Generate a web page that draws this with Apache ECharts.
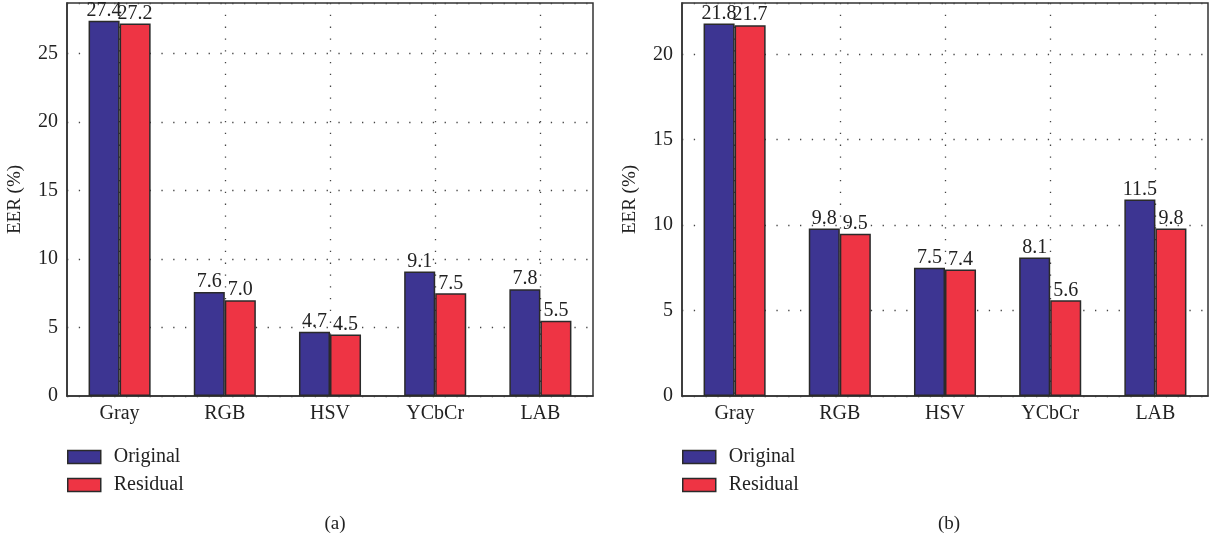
<!DOCTYPE html>
<html>
<head>
<meta charset="utf-8">
<script src="https://cdn.jsdelivr.net/npm/echarts@6/dist/echarts.min.js"></script>
<style>
  html, body { margin: 0; padding: 0; background: #fff; }
  #chart { width: 1213px; height: 540px; }
</style>
</head>
<body>
<div id="chart"></div>
<script>
// 数据
const categories = ["Gray", "RGB", "HSV", "YCbCr", "LAB"];
const seriesNames = ["Original", "Residual"];
const originalA = [27.4, 7.6, 4.7, 9.1, 7.8];
const residualA = [27.2, 7.0, 4.5, 7.5, 5.5];
const originalB = [21.8, 9.8, 7.5, 8.1, 11.5];
const residualB = [21.7, 9.5, 7.4, 5.6, 9.8];
// hidden axis positions so the vertical dotted lines go through category centres
const centreSlots = ["", "", "", "", "", "", "", "", "", "", ""];

const FONT = "Liberation Serif";
const BLUE = "#3d3592";
const RED = "#ee3444";
const INK = "#222";

const chart = echarts.init(document.getElementById("chart"));

const dotted = { color: "#444", width: 1.3, type: [1.3, 10.5] };

const makeGrid = (left) => ({
  left: left, top: 3, width: 526, height: 393,
  show: true, borderColor: "#333", borderWidth: 1.5
});

const makeCatAxis = (gridIndex) => ({
  type: "category",
  gridIndex: gridIndex,
  data: categories,
  axisLine: { lineStyle: { color: "#333", width: 1.5 } },
  axisTick: { show: false },
  axisLabel: { color: INK, fontFamily: FONT, fontSize: 20, margin: 8 },
  splitLine: { show: false }
});

const makeCentreAxis = (gridIndex) => ({
  type: "category",
  gridIndex: gridIndex,
  data: centreSlots,
  boundaryGap: false,
  axisLine: { show: false },
  axisTick: { show: false },
  axisLabel: { show: false },
  splitLine: {
    show: true,
    interval: (index) => index % 2 === 1,
    lineStyle: dotted
  }
});

const makeValAxis = (gridIndex, max) => ({
  type: "value",
  gridIndex: gridIndex,
  min: 0,
  max: max,
  interval: 5,
  name: "EER (%)",
  nameLocation: "middle",
  nameGap: 42,
  nameTextStyle: { color: INK, fontFamily: FONT, fontSize: 19 },
  axisLine: { show: true, lineStyle: { color: "#333", width: 1.5 } },
  axisTick: { show: false },
  axisLabel: {
    color: INK, fontFamily: FONT, fontSize: 20, margin: 9,
    showMaxLabel: false
  },
  splitLine: {
    show: true,
    lineStyle: dotted
  }
});

const makeBar = (name, data, color, idx) => ({
  name: name,
  type: "bar",
  xAxisIndex: idx,
  yAxisIndex: idx,
  data: data,
  barGap: "0%",
  barCategoryGap: "41%",
  itemStyle: { color: color, borderColor: "#2a2a2a", borderWidth: 1.5 },
  label: {
    show: true,
    position: "top",
    distance: 0,
    color: INK,
    fontFamily: FONT,
    fontSize: 20,
    formatter: (p) => p.value.toFixed(1)
  }
});

const makeLegend = (left) => ({
  left: left,
  top: 446,
  padding: 0,
  orient: "vertical",
  icon: "rect",
  itemWidth: 33,
  itemHeight: 13,
  itemGap: 6,
  data: seriesNames,
  itemStyle: { borderColor: "#2a2a2a", borderWidth: 1.5 },
  textStyle: { color: INK, fontFamily: FONT, fontSize: 20, padding: [0, 0, 0, 8], lineHeight: 22 }
});

const option = {
  animation: false,
  backgroundColor: "#fff",
  title: [
    { text: "(a)", left: 330, top: 510, textAlign: "center",
      textStyle: { color: INK, fontFamily: FONT, fontSize: 19, fontWeight: "normal" } },
    { text: "(b)", left: 944, top: 510, textAlign: "center",
      textStyle: { color: INK, fontFamily: FONT, fontSize: 19, fontWeight: "normal" } }
  ],
  legend: [makeLegend(67), makeLegend(682)],
  grid: [makeGrid(67), makeGrid(682)],
  xAxis: [makeCatAxis(0), makeCatAxis(1), makeCentreAxis(0), makeCentreAxis(1)],
  yAxis: [makeValAxis(0, 28.7), makeValAxis(1, 23)],
  series: [
    makeBar("Original", originalA, BLUE, 0),
    makeBar("Residual", residualA, RED, 0),
    makeBar("Original", originalB, BLUE, 1),
    makeBar("Residual", residualB, RED, 1)
  ]
};

chart.setOption(option);
</script>
</body>
</html>
